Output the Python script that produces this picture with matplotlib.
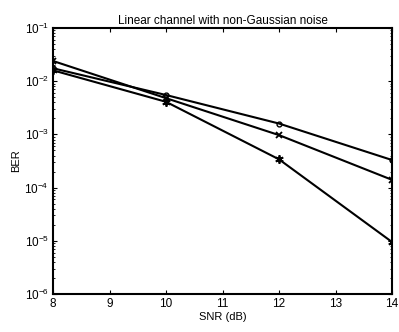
import matplotlib
matplotlib.use('Agg')
import matplotlib.pyplot as plt

plt.rcParams['font.family'] = ['Liberation Sans', 'DejaVu Sans']

snr = [8, 10, 12, 14]
ber_circle = [0.0175, 0.0055, 0.0016, 0.00033]
ber_cross = [0.024, 0.0048, 0.00097, 0.00014]
ber_star = [0.016, 0.0041, 0.00034, 0.0000095]

fig = plt.figure(figsize=(3.99, 3.32), dpi=100)
ax = fig.add_axes([53 / 399, 1 - 294 / 332, 339 / 399, 266 / 332])

ax.semilogy(snr, ber_circle, 'k-', marker='o', ms=3.5, mfc='none', lw=1.5, mew=1)
ax.semilogy(snr, ber_cross, 'k-', marker='x', ms=5, lw=1.5, mew=1.3)
ax.semilogy(snr, ber_star, 'k-', marker=(6, 2, 0), ms=6, lw=1.5, mew=1.3)

ax.set_xlim(8, 14)
ax.set_ylim(1e-6, 1e-1)
ax.set_xticks([8, 9, 10, 11, 12, 13, 14])
ax.tick_params(which='both', direction='in', top=True, right=True, labelsize=8.5, pad=3)
ax.tick_params(which='major', length=3)
ax.tick_params(which='minor', length=1.5)
for s in ax.spines.values():
    s.set_linewidth(1.5)

ax.set_title('Linear channel with non-Gaussian noise', fontsize=8.5, pad=3)
ax.set_xlabel('SNR (dB)', fontsize=8, labelpad=1)
ax.set_ylabel('BER', fontsize=8, labelpad=2)

fig.savefig('out.png', dpi=100)
